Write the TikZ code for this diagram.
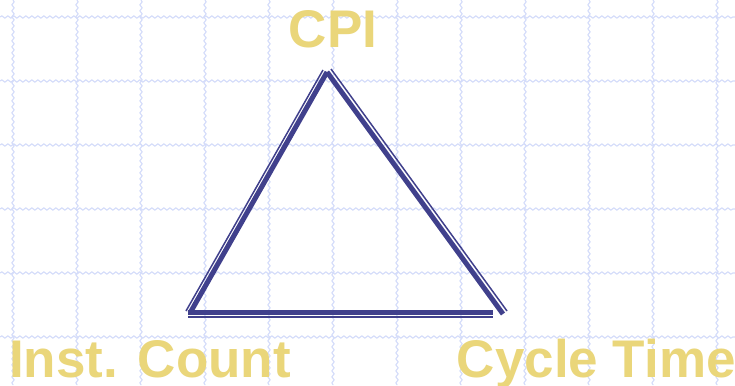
\documentclass[tikz,border=0pt]{standalone}
\usepackage{fontspec}
\setmainfont{Liberation Sans}
\usetikzlibrary{decorations.pathmorphing}
\definecolor{gridblue}{RGB}{212,220,250}
\definecolor{edgeblue}{RGB}{64,64,140}
\definecolor{labelgold}{RGB}{234,214,122}
\tikzset{
  wavy/.style={color=gridblue, line width=1.1pt, decorate,
    decoration={snake, amplitude=1.1pt, segment length=6pt}},
  thickedge/.style={color=edgeblue, line width=5pt},
  thinedge/.style={color=edgeblue, line width=1.5pt},
  corner/.style={font=\bfseries\fontsize{53}{53}\selectfont, text=labelgold, inner sep=0pt},
}
\begin{document}
\begin{tikzpicture}[x=1pt,y=-1pt]
        \useasboundingbox (0,0) rectangle (735,385);
        \fill[white] (0,0) rectangle (735,385);
        % wavy grid
        \foreach \gx in {13,77,...,717}
            \draw[wavy] (\gx,0) -- (\gx,385);
        \foreach \gy in {17,81,...,337}
            \draw[wavy] (0,\gy) -- (735,\gy);
        % triangle corners
        \coordinate (apex) at (327,72);
        \coordinate (left) at (190,313);
        \coordinate (right) at (503,314);
        \coordinate (bl) at (188,312);
        \coordinate (br) at (493,312);
        % outer thin lines
        \coordinate (apexl) at (323,70);
        \coordinate (leftl) at (186,311);
        \coordinate (apexr) at (331,69);
        \coordinate (rightr) at (507,311);
        \coordinate (bll) at (188,317);
        \coordinate (brl) at (493,317);
        \draw[thickedge] (apex) -- (left);
        \draw[thickedge] (apex) -- (right);
        \draw[thickedge] (bl) -- (br);
        \draw[thinedge] (apexl) -- (leftl);
        \draw[thinedge] (apexr) -- (rightr);
        \draw[thinedge] (bll) -- (brl);
        % labels
        \node[corner, anchor=base] (cpi) at (333,48) {CPI};
        \node[corner, anchor=base west] (count) at (9,377) {Inst. Count};
        \node[corner, anchor=base east] (cycle) at (736,377) {Cycle Time};
    \end{tikzpicture}
\end{document}
